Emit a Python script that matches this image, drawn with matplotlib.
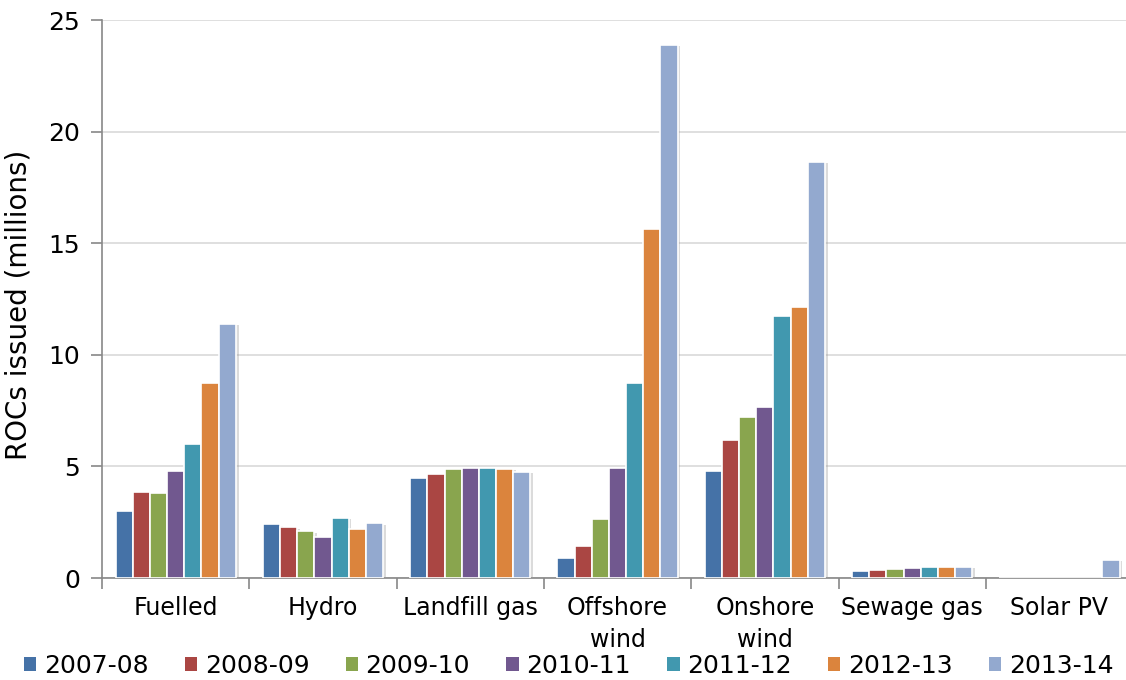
import numpy as np
import matplotlib.pyplot as plt
import matplotlib.patheffects as pe
from matplotlib.patches import Patch

categories = ["Fuelled", "Hydro", "Landfill gas", "Offshore\nwind", "Onshore\nwind", "Sewage gas", "Solar PV"]
years = ["2007-08", "2008-09", "2009-10", "2010-11", "2011-12", "2012-13", "2013-14"]

v_2007 = [3.0, 2.4, 4.5, 0.9, 4.8, 0.3, 0.0]
v_2008 = [3.85, 2.28, 4.65, 1.45, 6.2, 0.35, 0.0]
v_2009 = [3.8, 2.1, 4.9, 2.65, 7.2, 0.4, 0.0]
v_2010 = [4.8, 1.85, 4.95, 4.95, 7.65, 0.45, 0.0]
v_2011 = [6.0, 2.7, 4.95, 8.75, 11.75, 0.5, 0.0]
v_2012 = [8.75, 2.2, 4.9, 15.65, 12.15, 0.48, 0.0]
v_2013 = [11.4, 2.45, 4.75, 23.9, 18.65, 0.5, 0.82]

series = [v_2007, v_2008, v_2009, v_2010, v_2011, v_2012, v_2013]
colors = ["#4572A7", "#AA4643", "#89A54E", "#71588F", "#4198AF", "#DB843D", "#93A9CF"]

fig = plt.figure(figsize=(11.26, 6.8), dpi=100)
ax = fig.add_axes([0.0906, 0.15, 0.9157, 0.82])

x = np.arange(len(categories))
w = 0.1165
shadow = [pe.SimplePatchShadow(offset=(2, -1), shadow_rgbFace="#999999", alpha=0.35), pe.Normal()]
for i, (vals, col, lab) in enumerate(zip(series, colors, years)):
    ax.bar(x + (i - 3) * w, vals, width=w, color=col, edgecolor="white",
           linewidth=1.2, label=lab, zorder=3, path_effects=shadow)

ax.set_xlim(-0.5, len(categories) - 0.5)
ax.set_ylim(0, 25)
ax.set_yticks([0, 5, 10, 15, 20, 25])
ax.tick_params(axis="y", labelsize=18, length=8, color="#888888", width=1.2, pad=8)
ax.set_xticks(x)
ax.set_xticklabels(categories, fontsize=17, linespacing=1.4)
ax.tick_params(axis="x", which="major", length=0, pad=13)
ax.set_xticks(np.arange(-0.5, len(categories), 1), minor=True)
ax.tick_params(axis="x", which="minor", length=8, color="#888888", width=1.2)
ax.set_ylabel("ROCs issued (millions)", fontsize=20, labelpad=8)
ax.yaxis.set_label_coords(-0.067, 0.49)

ax.grid(axis="y", color="#d9d9d9", linewidth=1.2, zorder=0)
ax.set_axisbelow(True)
for s in ["top", "right"]:
    ax.spines[s].set_visible(False)
for s in ["left", "bottom"]:
    ax.spines[s].set_color("#888888")
    ax.spines[s].set_linewidth(1.2)

handles = [Patch(facecolor=c, edgecolor="none") for c in colors]
fig.legend(handles, years, loc="lower center", bbox_to_anchor=(0.505, -0.03), ncol=7,
           frameon=False, fontsize=18, handlelength=0.5, handleheight=0.5,
           handletextpad=0.3, columnspacing=1.45)

fig.savefig("out.png", dpi=100)
